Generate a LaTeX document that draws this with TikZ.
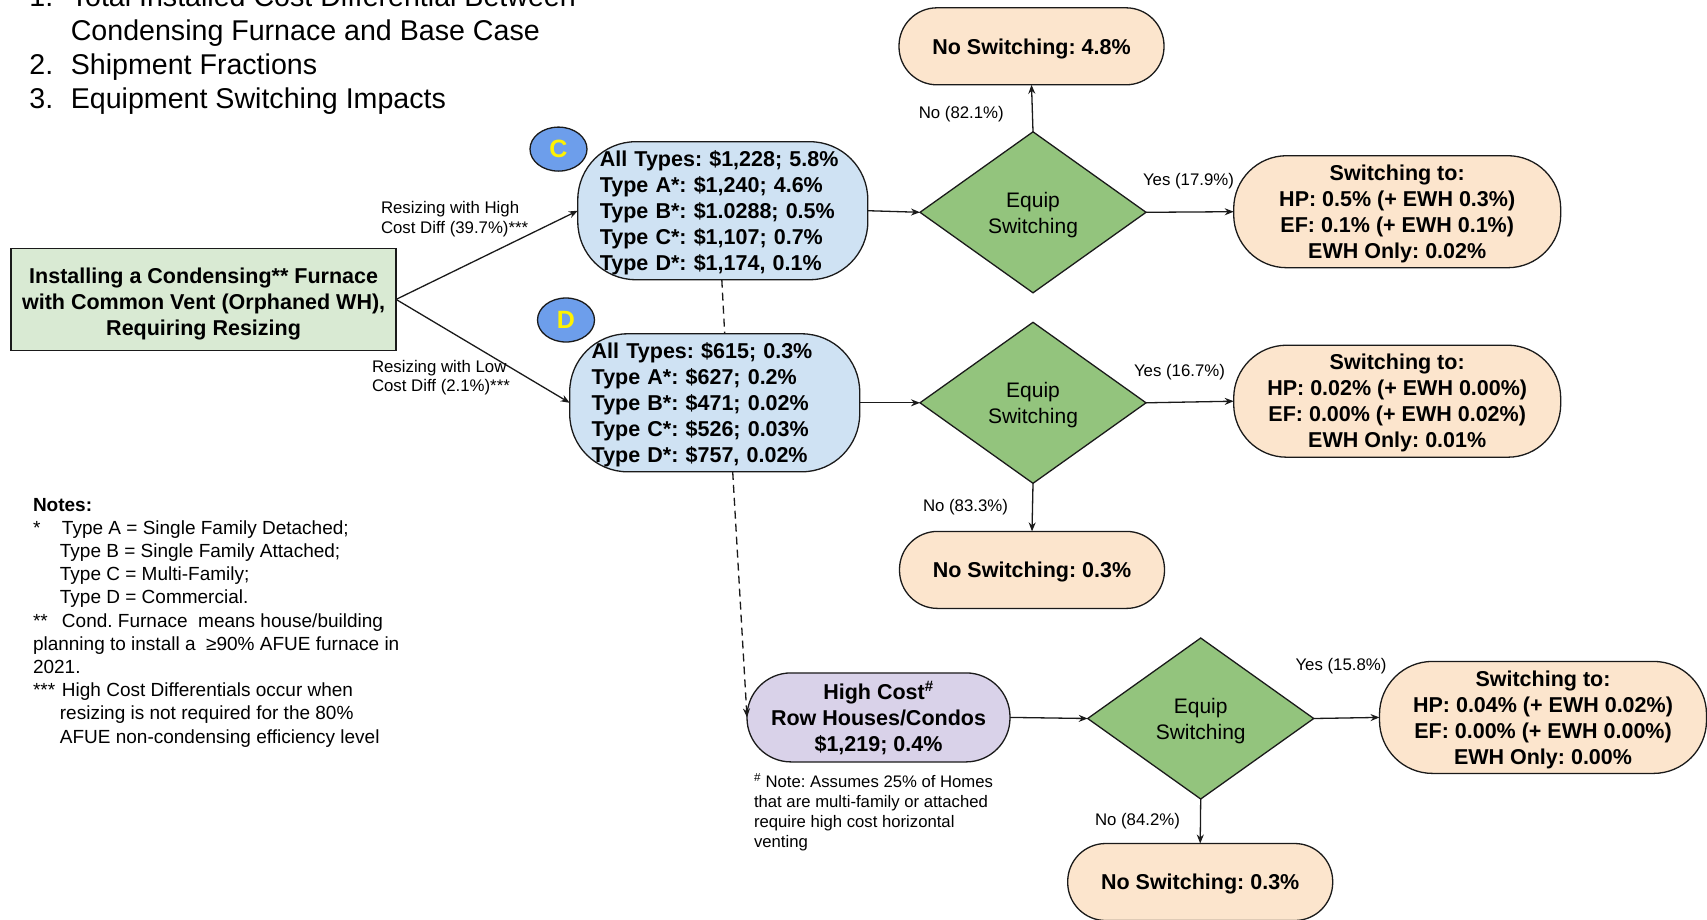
\documentclass[tikz,border=0pt]{standalone}
\usepackage{fontspec}
\setmainfont{Liberation Sans}
\usetikzlibrary{shapes.geometric,arrows.meta}
\definecolor{gboxc}{HTML}{D9EAD3}
\definecolor{bboxc}{HTML}{CFE2F3}
\definecolor{circc}{HTML}{6D9EEB}
\definecolor{diac}{HTML}{93C47D}
\definecolor{peachc}{HTML}{FCE5CD}
\definecolor{purpc}{HTML}{D9D2E9}
\definecolor{linec}{HTML}{1A1A1A}
\newcommand\fbig{\fontsize{21.5}{26}\selectfont\bfseries}
\newcommand\flab{\fontsize{16.8}{19.6}\selectfont}
\newcommand\fnote{\fontsize{19}{23.2}\selectfont}
\newcommand\fhead{\fontsize{28.6}{34}\selectfont}
\newcommand\tstr{\rule{0pt}{20pt}}
\newcommand\tstrg{\rule{0pt}{24pt}}
\newcommand\bstr{\rule[-4.6pt]{0pt}{0pt}}
\tikzset{
  every node/.style={inner sep=0pt, outer sep=0pt},
  bord/.style={draw=linec, line width=1.3pt},
  greenbox/.style={bord, fill=gboxc, minimum width=385pt, minimum height=102pt, align=center, font=\fbig},
  bluebox/.style={bord, fill=bboxc, rounded corners=58pt, minimum height=138pt, text width=246pt, inner xsep=22pt, align=left, font=\fbig},
  letter/.style={ellipse, bord, fill=circc, minimum width=57pt, minimum height=44pt, text=yellow, font=\fontsize{25}{28}\selectfont\bfseries},
  decision/.style={diamond, bord, fill=diac, minimum width=226pt, minimum height=161pt, align=center, font=\fontsize{21}{26}\selectfont},
  nosw/.style={bord, fill=peachc, rounded corners=38pt, minimum width=265pt, minimum height=77pt, font=\fbig},
  swbox/.style={bord, fill=peachc, rounded corners=53pt, minimum width=327pt, minimum height=112pt, align=center, font=\fbig},
  purpbox/.style={bord, fill=purpc, rounded corners=44pt, minimum width=263pt, minimum height=89pt, align=center, font=\fbig},
  arr/.style={draw=linec, line width=1.3pt, -{Stealth[length=9pt,width=7pt]}},
  dashline/.style={draw=linec, line width=1.3pt, dash pattern=on 8pt off 5pt},
  lab/.style={font=\flab, align=left},
  head/.style={font=\fhead, anchor=base west},
}
\begin{document}
\frenchspacing
\begin{tikzpicture}[x=1pt,y=-1pt]
\useasboundingbox (0,0) rectangle (1707,919);
\fill[white] (0,0) rectangle (1707,919);
\clip (0,0) rectangle (1707,919);

% heading list
\node[head] (h1n) at (29.4,6.7) {1.};
\node[head] (h1t) at (70.8,6.7) {Total Installed Cost Differential Between};
\node[head] (h1u) at (70.8,40.7) {Condensing Furnace and Base Case};
\node[head] (h2n) at (29.4,74.2) {2.};
\node[head] (h2t) at (70.8,74.2) {Shipment Fractions};
\node[head] (h3n) at (29.4,108.2) {3.};
\node[head] (h3t) at (70.8,108.2) {Equipment Switching Impacts};

% main nodes
\node[greenbox] (start) at (203.6,299.4) {\tstrg Installing a Condensing** Furnace\\with Common Vent (Orphaned WH),\\Requiring Resizing\bstr};

\node[bluebox] (hi) at (722.8,210.7) {\tstr All Types: \$1,228; 5.8\%\\Type A*: \$1,240; 4.6\%\\Type B*: \$1.0288; 0.5\%\\Type C*: \$1,107; 0.7\%\\Type D*: \$1,174, 0.1\%\bstr};
\node[bluebox] (lo) at (714.7,402.8) {\tstr All Types: \$615; 0.3\%\\Type A*: \$627; 0.2\%\\Type B*: \$471; 0.02\%\\Type C*: \$526; 0.03\%\\Type D*: \$757, 0.02\%\bstr};

\node[letter] (lc) at (558.5,149.1) {C};
\node[letter] (ld) at (566,320) {D};

\node[decision] (q1) at (1033,212.3) {\tstr Equip\\Switching\bstr};
\node[decision] (q2) at (1033,402.8) {\tstr Equip\\Switching\bstr};
\node[decision] (q3) at (1200.7,718.5) {\tstr Equip\\Switching\bstr};

\node[nosw] (n1) at (1031.5,46.3) {\tstr No Switching: 4.8\%\bstr};
\node[nosw] (n2) at (1032,569.9) {\tstr No Switching: 0.3\%\bstr};
\node[nosw] (n3) at (1200.2,882) {\tstr No Switching: 0.3\%\bstr};

\node[swbox] (s1) at (1397.2,211.7) {\tstr Switching to:\\HP: 0.5\% (+ EWH 0.3\%)\\EF: 0.1\% (+ EWH 0.1\%)\\EWH Only: 0.02\%\bstr};
\node[swbox] (s2) at (1397.2,401.2) {\tstr Switching to:\\HP: 0.02\% (+ EWH 0.00\%)\\EF: 0.00\% (+ EWH 0.02\%)\\EWH Only: 0.01\%\bstr};
\node[swbox] (s3) at (1543,717.4) {\tstr Switching to:\\HP: 0.04\% (+ EWH 0.02\%)\\EF: 0.00\% (+ EWH 0.00\%)\\EWH Only: 0.00\%\bstr};

\node[purpbox] (hc) at (878.5,717.4) {\tstr High Cost\textsuperscript{\#}\\Row Houses/Condos\\\$1,219; 0.4\%\bstr};

% connectors
\draw[arr] (start.east) -- (hi.west);
\draw[arr] (start.east) -- (lo.west);
\draw[arr] (hi.east) -- (q1.west);
\draw[arr] (q1.north) -- (n1.south);
\draw[arr] (q1.east) -- (s1.west);
\draw[arr] (lo.east) -- (q2.west);
\draw[arr] (q2.east) -- (s2.west);
\draw[arr] (q2.south) -- (n2.north);
\draw[dashline] ([xshift=-1pt]hi.south) -- ([xshift=10pt]lo.north);
\draw[arr, dashline] ([xshift=18pt]lo.south) -- (hc.west);
\draw[arr] (hc.east) -- (q3.west);
\draw[arr] (q3.east) -- (s3.west);
\draw[arr] (q3.south) -- (n3.north);

% edge labels
\node[lab, anchor=west] (lhi) at (381,219) {Resizing with High\\Cost Diff (39.7\%)***};
\node[lab, anchor=west] (llo) at (372,377.5) {Resizing with Low\\Cost Diff (2.1\%)***};
\node[lab, anchor=west] (ln1) at (918.8,114.5) {No (82.1\%)};
\node[lab, anchor=west] (ly1) at (1143,181) {Yes (17.9\%)};
\node[lab, anchor=west] (ly2) at (1134,372.5) {Yes (16.7\%)};
\node[lab, anchor=west] (ln2) at (923,507.5) {No (83.3\%)};
\node[lab, anchor=west] (ly3) at (1295.5,666.5) {Yes (15.8\%)};
\node[lab, anchor=west] (ln3) at (1095,821) {No (84.2\%)};

% notes
\node[font=\fontsize{16.7}{20}\selectfont, align=left, anchor=north west] (hcnote) at (754,773.4) {\textsuperscript{\#} Note: Assumes 25\% of Homes\\that are multi-family or attached\\require high cost horizontal\\venting};

\node[font=\fnote, align=left, anchor=north west] (notes) at (33,498) {\textbf{Notes:}\\
*\hspace{21.6pt}Type A = Single Family Detached;\\
\hspace{26.9pt}Type B = Single Family Attached;\\
\hspace{26.9pt}Type C = Multi-Family;\\
\hspace{26.9pt}Type D = Commercial.\\
**\hspace{14.2pt}Cond. Furnace\ \ means house/building\\
planning to install a\ \ ≥90\% AFUE furnace in\\
2021.\\
***\hspace{6.8pt}High Cost Differentials occur when\\
\hspace{26.9pt}resizing is not required for the 80\%\\
\hspace{26.9pt}AFUE non-condensing efficiency level};
\end{tikzpicture}
\end{document}
